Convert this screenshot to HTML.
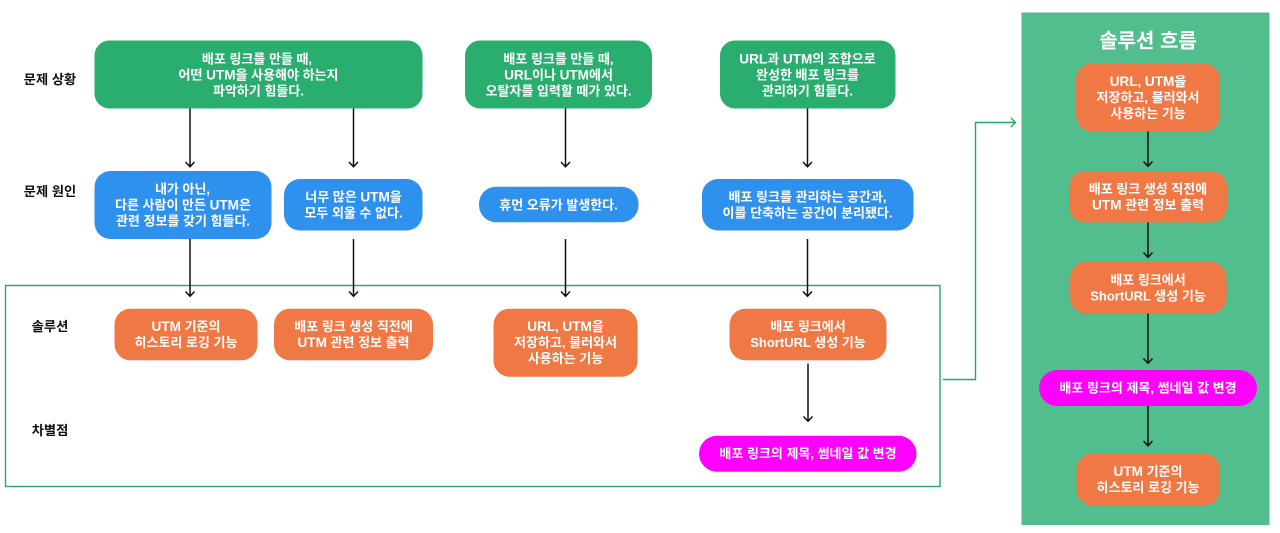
<!DOCTYPE html>
<html lang="ko">
<head>
<meta charset="utf-8">
<style>
html,body{margin:0;padding:0;background:#fff;width:1280px;height:533px;overflow:hidden}
svg{display:block}
text{font-family:"Liberation Sans","Noto Sans CJK KR",sans-serif;font-weight:700;font-size:13px;text-anchor:middle;fill:#fff}
text.l{fill:#111;font-size:13.25px}
text.t{font-size:20px}
tspan{font-size:13.6px}
.g{fill:#2aae70}
.b{fill:#2f91ee}
.o{fill:#f07845}
.m{fill:#ff00ff}
.a{fill:none;stroke:#111;stroke-width:1.5}
.c{fill:none;stroke:#22a96a;stroke-width:1.4}
</style>
</head>
<body>
<svg width="1280" height="533" viewBox="0 0 1280 533" xmlns="http://www.w3.org/2000/svg">
<rect x="5.5" y="285.5" width="934.5" height="201" fill="#fff" stroke="#22a96a" stroke-width="1.4"/>
<rect x="1021.5" y="12.5" width="248" height="512.5" fill="#52bd8d"/>

<!-- green -->
<rect class="g" x="94.5" y="40.5" width="328" height="68" rx="15"/>
<rect class="g" x="465" y="40.5" width="187" height="68" rx="15"/>
<rect class="g" x="720" y="40.5" width="175.5" height="68" rx="15"/>
<!-- blue -->
<rect class="b" x="94.5" y="171" width="177" height="68" rx="16"/>
<rect class="b" x="284" y="179" width="138.5" height="51.5" rx="16"/>
<rect class="b" x="479" y="186.7" width="159.5" height="35.5" rx="17"/>
<rect class="b" x="702" y="179" width="211.5" height="51.5" rx="16"/>
<!-- orange -->
<rect class="o" x="114.5" y="308.7" width="143" height="51.6" rx="16"/>
<rect class="o" x="274" y="308.7" width="159" height="51.6" rx="16"/>
<rect class="o" x="493.5" y="308.7" width="144" height="68" rx="16"/>
<rect class="o" x="729.5" y="308.7" width="157" height="51.6" rx="16"/>
<rect class="m" x="699" y="435.7" width="217.5" height="36" rx="18"/>
<!-- panel -->
<rect class="o" x="1076" y="63.5" width="144" height="68" rx="16"/>
<rect class="o" x="1069" y="171" width="158" height="51.5" rx="16"/>
<rect class="o" x="1070" y="262" width="156.5" height="51.5" rx="16"/>
<rect class="m" x="1039" y="370" width="218" height="36" rx="18"/>
<rect class="o" x="1076.5" y="453.7" width="143.5" height="51.8" rx="16"/>

<!-- arrows -->
<path class="a" d="M190 108.5V167M185.5 162l4.5 4.8l4.5-4.8"/>
<path class="a" d="M353.5 108.5V167M349 162l4.5 4.8l4.5-4.8"/>
<path class="a" d="M565.5 108.5V167M561 162l4.5 4.8l4.5-4.8"/>
<path class="a" d="M807.5 108.5V167M803 162l4.5 4.8l4.5-4.8"/>
<path class="a" d="M190 239V296.5M185.5 291.5l4.5 4.8l4.5-4.8"/>
<path class="a" d="M353.5 239V296.5M349 291.5l4.5 4.8l4.5-4.8"/>
<path class="a" d="M565.5 239V296.5M561 291.5l4.5 4.8l4.5-4.8"/>
<path class="a" d="M807.5 239V296.5M803 291.5l4.5 4.8l4.5-4.8"/>
<path class="a" d="M808 363.5V421.5M803.5 416.5l4.5 4.8l4.5-4.8"/>
<path class="a" d="M1148 131.5V166.5M1143.5 161.5l4.5 4.8l4.5-4.8"/>
<path class="a" d="M1148 222.5V257.5M1143.5 252.5l4.5 4.8l4.5-4.8"/>
<path class="a" d="M1148 313.5V363.5M1143.5 358.5l4.5 4.8l4.5-4.8"/>
<path class="a" d="M1148 406V446M1143.5 441l4.5 4.8l4.5-4.8"/>
<path class="c" d="M943 379.5H975.5V122.5H1015M1011 118l4.5 4.5l-4.5 4.5"/>

<!-- labels -->
<text class="l" x="50" y="84">문제 상황</text>
<text class="l" x="50" y="196">문제 원인</text>
<text class="l" x="50" y="331">솔루션</text>
<text class="l" x="50" y="435">차별점</text>
<text class="t" x="1148" y="47.5">솔루션 흐름</text>

<text x="257" y="63.5">배포 링크를 만들 때,</text>
<text x="258.5" y="79.5">어떤 <tspan>UTM</tspan>을 사용해야 하는지</text>
<text x="258.5" y="95.5">파악하기 힘들다.</text>
<text x="558.5" y="63.5">배포 링크를 만들 때,</text>
<text x="558.5" y="79.5"><tspan>URL</tspan>이나 <tspan>UTM</tspan>에서</text>
<text x="558.5" y="95.5">오탈자를 입력할 때가 있다.</text>
<text x="807.5" y="63.5"><tspan>URL</tspan>과 <tspan>UTM</tspan>의 조합으로</text>
<text x="807.5" y="79.5">완성한 배포 링크를</text>
<text x="807.5" y="95.5">관리하기 힘들다.</text>

<text x="182.5" y="193.5">내가 아닌,</text>
<text x="183" y="209.5">다른 사람이 만든 <tspan>UTM</tspan>은</text>
<text x="183" y="225.5">관련 정보를 갖기 힘들다.</text>
<text x="353.5" y="201.5">너무 많은 <tspan>UTM</tspan>을</text>
<text x="353.5" y="217.5">모두 외울 수 없다.</text>
<text x="558.5" y="209.5">휴먼 오류가 발생한다.</text>
<text x="807.5" y="201.5">배포 링크를 관리하는 공간과,</text>
<text x="807.5" y="217.5">이를 단축하는 공간이 분리됐다.</text>

<text x="186" y="331"><tspan>UTM</tspan> 기준의</text>
<text x="186" y="347">히스토리 로깅 기능</text>
<text x="353.5" y="331">배포 링크 생성 직전에</text>
<text x="353.5" y="347"><tspan>UTM</tspan> 관련 정보 출력</text>
<text x="565.5" y="331"><tspan>URL</tspan>, <tspan>UTM</tspan>을</text>
<text x="565.5" y="347">저장하고, 불러와서</text>
<text x="565.5" y="363">사용하는 기능</text>
<text x="808" y="331">배포 링크에서</text>
<text x="808" y="347">ShortURL 생성 기능</text>
<text x="808" y="458">배포 링크의 제목, 썸네일 값 변경</text>

<text x="1148" y="86"><tspan>URL</tspan>, <tspan>UTM</tspan>을</text>
<text x="1148" y="102">저장하고, 불러와서</text>
<text x="1148" y="118">사용하는 기능</text>
<text x="1148" y="193.5">배포 링크 생성 직전에</text>
<text x="1148" y="209.5"><tspan>UTM</tspan> 관련 정보 출력</text>
<text x="1148" y="284.5">배포 링크에서</text>
<text x="1148" y="300.5">ShortURL 생성 기능</text>
<text x="1148" y="392.5">배포 링크의 제목, 썸네일 값 변경</text>
<text x="1148" y="476"><tspan>UTM</tspan> 기준의</text>
<text x="1148" y="492">히스토리 로깅 기능</text>
</svg>
</body>
</html>
